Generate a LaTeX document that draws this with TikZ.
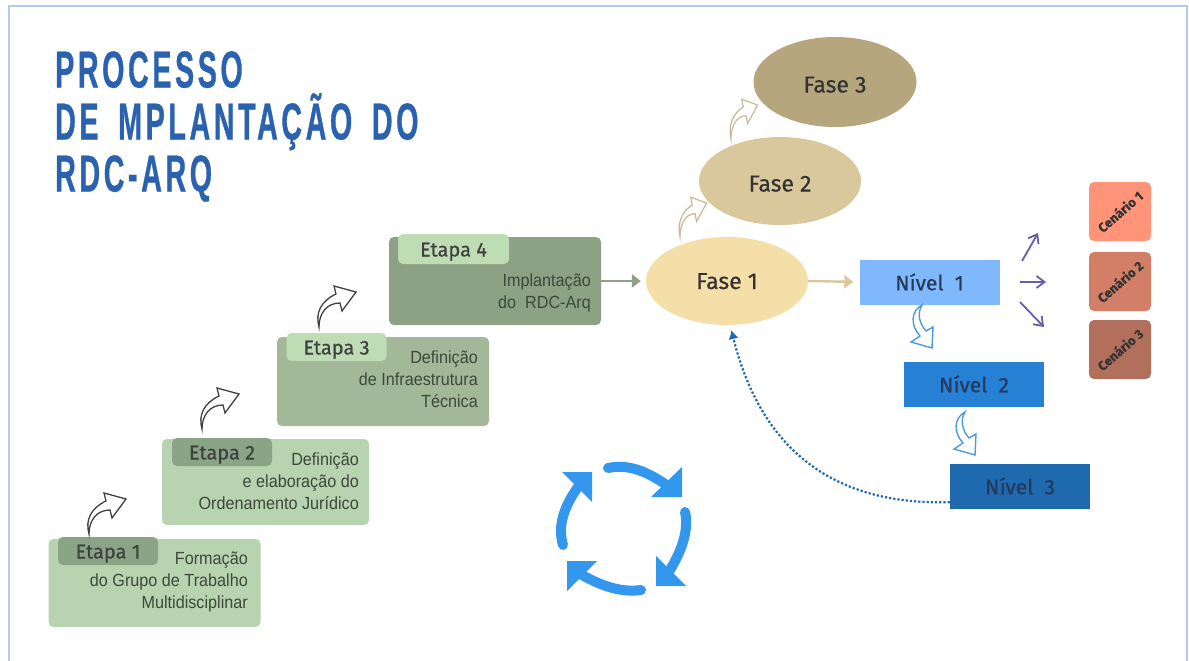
\documentclass[tikz,border=0pt]{standalone}
\usepackage{fontspec}
\usepackage{xcolor}
\usepackage{tikz}
\usetikzlibrary{calc, arrows.meta, positioning, shapes.geometric}
\setmainfont{Liberation Sans}
\newfontfamily\titlefont[FakeStretch=0.55,LetterSpace=7,WordSpace=1.7,FakeBold=0.6]{Liberation Sans}
\newfontfamily\roundfont[FakeBold=0.5]{Fira Sans}
\newfontfamily\bodyfont[FakeStretch=0.92]{Liberation Sans}

\definecolor{titleblue}{HTML}{2A62B0}
\definecolor{framecol}{HTML}{B4CBF0}
\definecolor{etapaA}{HTML}{B7D3B0}
\definecolor{etapaB}{HTML}{A3B899}
\definecolor{etapaC}{HTML}{8DA184}
\definecolor{tabdark}{HTML}{8AA585}
\definecolor{tablight}{HTML}{BEDDB5}
\definecolor{desctext}{HTML}{3E483B}
\definecolor{faseA}{HTML}{F4DFA9}
\definecolor{faseB}{HTML}{D9C89B}
\definecolor{faseC}{HTML}{B5A67E}
\definecolor{nivelA}{HTML}{80B9FB}
\definecolor{nivelB}{HTML}{2680D4}
\definecolor{nivelC}{HTML}{1F69AE}
\definecolor{niveltext}{HTML}{25395A}
\definecolor{cenA}{HTML}{FF9478}
\definecolor{cenB}{HTML}{D37F68}
\definecolor{cenC}{HTML}{B26F5C}
\definecolor{cyclecol}{HTML}{3497EE}
\definecolor{seta}{HTML}{6A5BA8}

\begin{document}
\begin{tikzpicture}[
            x=1pt, y=-1pt,
            etapa/.style={rounded corners=5pt, inner sep=0pt, minimum width=212pt, minimum height=88pt},
            tab/.style={rounded corners=5pt, inner sep=0pt, minimum width=100pt, minimum height=28pt,
                text height=15pt, text depth=0pt,
                font=\roundfont\fontsize{20}{22}\selectfont, text=black!75},
            desc/.style={anchor=north east, align=right, inner sep=0pt,
                font=\bodyfont\fontsize{17.6}{22}\selectfont, text=desctext},
            fase/.style={ellipse, inner sep=0pt, minimum width=162pt, minimum height=88pt,
                text height=21pt, text depth=0pt,
                font=\roundfont\fontsize{23}{24}\selectfont, text=black!80},
            nivel/.style={inner sep=0pt, minimum width=140pt, minimum height=45pt,
                font=\roundfont\fontsize{21}{24}\selectfont, text=niveltext},
            cenario/.style={rounded corners=5pt, inner sep=0pt, minimum width=62pt, minimum height=59pt},
            cenlabel/.style={rotate=41, font=\roundfont\bfseries\fontsize{13}{14}\selectfont, text=black!80},
            darkcurve/.style={draw=black!75, fill=white, line width=1.3pt},
            palecurve/.style={draw=faseB!80!gray, fill=white, line width=1.2pt},
            bluecurve/.style={draw=nivelB!80!white, fill=white, line width=1.4pt},
            purple/.style={-{Straight Barb[length=8pt,width=12pt]}, draw=seta, line width=1.8pt},
            cycle/.style={draw=cyclecol, line width=10pt, line cap=round},
            cyclehead/.style={fill=cyclecol},
            pics/stepcurve/.style={code={
                \draw[#1] (0,0) .. controls (-4,-14) and (2,-26) .. (17,-33) -- (15,-41) -- (37,-35)
                    -- (23,-16) -- (21,-24) .. controls (8,-24) and (0,-14) .. (0,0) -- cycle;}},
            pics/downcurve/.style={code={
                \draw[#1] (0,0) .. controls (-11,6) and (-12,20) .. (-2,31) -- (-11,37) -- (10,43)
                    -- (11,22) -- (4,26) .. controls (-3,18) and (-5,8) .. (0,0) -- cycle;}}
        ]
        \useasboundingbox (0,0) rectangle (1189,661);

        % Frame
        \draw[framecol, line width=1.2pt] (9,661) -- (9,6) -- (1187,6) -- (1187,661);

        % Title
        \node[anchor=north west, align=left, inner sep=0pt, text=titleblue,
            font=\titlefont\bfseries\fontsize{52}{52}\selectfont] (title) at (55,51)
            {PROCESSO\\DE MPLANTAÇÃO DO\\RDC-ARQ};

        % Etapas
        \node[etapa, fill=etapaA] (etapa1) at (154.5,583) {};
        \node[etapa, fill=etapaA, minimum width=207pt, minimum height=86pt] (etapa2) at (265.5,482) {};
        \node[etapa, fill=etapaB, minimum height=89pt] (etapa3) at (383,381.5) {};
        \node[etapa, fill=etapaC] (etapa4) at (495,281) {};

        \node[tab, fill=tabdark] (tab1) at (108,551) {Etapa 1};
        \node[tab, fill=tabdark] (tab2) at (222,452) {Etapa 2};
        \node[tab, fill=tablight] (tab3) at (336.5,347) {Etapa 3};
        \node[tab, fill=tablight, minimum width=111pt, minimum height=30pt] (tab4) at (453.5,249) {Etapa 4};

        \node[desc] (desc1) at (248,552) {Formação\\do Grupo de Trabalho\\Multidisciplinar};
        \node[desc] (desc2) at (359,453) {Definição\\e elaboração do\hspace*{4pt}\\Ordenamento Jurídico};
        \node[desc] (desc3) at (478,351) {Definição\\de Infraestrutura\\Técnica};
        \node[desc] (desc4) at (591,274) {Implantação\\do\ \ RDC-Arq};

        % Fases
        \node[fase, fill=faseA, text height=16pt] (fase1) at (727,281) {Fase 1};
        \node[fase, fill=faseB] (fase2) at (780,181) {Fase 2};
        \node[fase, fill=faseC, minimum width=163pt, minimum height=90pt] (fase3) at (835,82) {Fase 3};

        % Niveis
        \node[nivel, fill=nivelA] (nivel1) at (929.5,282) {Nível\ \ 1};
        \node[nivel, fill=nivelB] (nivel2) at (974,384) {Nível\ \ 2};
        \node[nivel, fill=nivelC] (nivel3) at (1020,486) {Nível\ \ 3};

        % Cenarios
        \node[cenario, fill=cenA] (cen1) at (1120,211.5) {};
        \node[cenario, fill=cenB] (cen2) at (1120,281.5) {};
        \node[cenario, fill=cenC] (cen3) at (1120,349.5) {};
        \node[cenlabel] (lab1) at (cen1) {Cenário 1};
        \node[cenlabel] (lab2) at (cen2) {Cenário 2};
        \node[cenlabel] (lab3) at (cen3) {Cenário 3};

        % Free ends
        \coordinate (up1a) at (1022,261);
        \coordinate (up1b) at (1038,233);
        \coordinate (up2a) at (1020,282);
        \coordinate (up2b) at (1046,282);
        \coordinate (up3a) at (1020,302);
        \coordinate (up3b) at (1044,327);

        % Edges
        \draw[-{Triangle[length=9pt,width=13pt]}, draw=etapaC, fill=etapaC, line width=2.4pt, shorten >=5pt]
            (etapa4.east) -- (fase1.west);
        \draw[-{Triangle[length=9pt,width=13pt]}, draw=faseB, fill=faseB, line width=2.4pt, shorten >=6pt]
            (fase1.east) -- (nivel1.west);
        \draw[-{Latex[length=9pt,width=10pt]}, nivelC, line width=2.2pt, dotted, shorten >=5pt]
            (nivel3.193) .. controls (850,505) and (765,465) .. (fase1.-86);
        \draw[purple] (up1a) -- (up1b);
        \draw[purple] (up2a) -- (up2b);
        \draw[purple] (up3a) -- (up3b);

        % Curved arrows
        \pic at (89,534) {stepcurve=darkcurve};
        \pic at (202,429) {stepcurve=darkcurve};
        \pic at (319,327) {stepcurve=darkcurve};
        \pic[xscale=.72, yscale=.97] at (680,237) {stepcurve=palecurve};
        \pic[xscale=.72, yscale=.97] at (731,139) {stepcurve=palecurve};
        \pic at (922,305) {downcurve=bluecurve};
        \pic at (965,412) {downcurve=bluecurve};

        % Cycle
        \draw[cycle] (608,468) .. controls (632,463) and (652,475) .. (668,486);
        \draw[cycle] (685,512) .. controls (689,530) and (682,550) .. (670,570);
        \draw[cycle] (641,590) .. controls (620,593) and (600,585) .. (582,575);
        \draw[cycle] (563,545) .. controls (557,525) and (565,505) .. (578,487);
        \fill[cyclehead] (682,467) -- (682,497) -- (651,497) -- cycle;
        \fill[cyclehead] (656,556) -- (656,586) -- (686,586) -- cycle;
        \fill[cyclehead] (567,561) -- (567,591) -- (597,561) -- cycle;
        \fill[cyclehead] (562,472) -- (592,472) -- (592,502) -- cycle;

    \end{tikzpicture}
\end{document}
